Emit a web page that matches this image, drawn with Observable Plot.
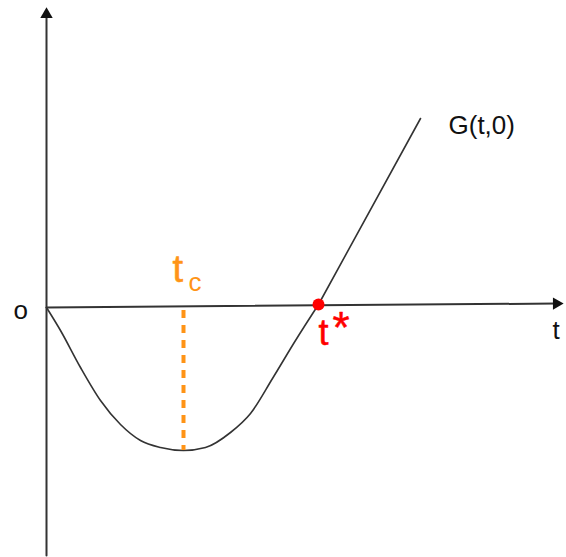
<!DOCTYPE html>
<html>
<head>
<meta charset="utf-8">
<script src="https://cdn.jsdelivr.net/npm/d3@7"></script>
<script src="https://cdn.jsdelivr.net/npm/@observablehq/plot@0.6"></script>
<style>
  html, body { margin: 0; padding: 0; background: #fff; }
  #chart svg { display: block; }
</style>
</head>
<body>
<div id="chart"></div>
<script>
// G(t,0): the dip sampled along t, up to the root t*
const dipT = [0, 14, 34, 54, 74, 94, 114, 137, 159, 184, 204, 226, 249, 272];
const dipG = [0, -23, -60, -93, -117, -133, -140, -143, -140, -125, -106, -71, -33, 3];
// past the root G(t,0) grows linearly
const rayT = [272, 374];
const rayG = [3, 189];

// horizontal t axis (slightly tilted as drawn) and vertical axis
const axisT = [0, 510];
const axisG = [0, 4];
const vAxisG = [-248, 290];

// critical times
const tc = 137;      // minimum of G
const tcG = -143;
const tStar = 272;   // root of G
const tStarG = 3;

// labels
const labelText = ["o", "t", "G(t,0)"];
const labelT = [-33, 506, 402];
const labelG = [-11, -31, 174];

const dip = dipT.map((t, i) => ({t, G: dipG[i]}));
const ray = rayT.map((t, i) => ({t, G: rayG[i]}));
const hAxis = axisT.map((t, i) => ({t, G: axisG[i]}));
const vAxis = vAxisG.map(G => ({t: 0, G}));
const labels = labelText.map((text, i) => ({text, t: labelT[i], G: labelG[i]}));

const ink = "#333";
const orange = "#ff9416";
const red = "#ff0000";
const font = "Liberation Sans, Arial, sans-serif";

const chart = Plot.plot({
  width: 566,
  height: 557,
  margin: 0,
  x: {domain: [-46, 520], axis: null},
  y: {domain: [-250, 307], axis: null},
  style: {fontFamily: font, background: "#fff"},
  marks: [
    // axes
    Plot.line(vAxis, {x: "t", y: "G", stroke: ink, strokeWidth: 2}),
    Plot.line(hAxis, {x: "t", y: "G", stroke: ink, strokeWidth: 2}),
    Plot.dot([{t: 0, G: 293}], {x: "t", y: "G", symbol: "triangle", r: 4.6, fill: "#111", stroke: "none"}),
    Plot.dot([{t: 510, G: 3.9}], {x: "t", y: "G", symbol: "triangle", r: 4.6, rotate: 90, fill: "#111", stroke: "none"}),
    // G(t,0)
    Plot.line(dip, {x: "t", y: "G", curve: "monotone-x", stroke: ink, strokeWidth: 1.6}),
    Plot.line(ray, {x: "t", y: "G", stroke: ink, strokeWidth: 1.6}),
    // t_c marker
    Plot.ruleX([tc], {y1: -3, y2: tcG, stroke: orange, strokeWidth: 4, strokeDasharray: "8,7"}),
    Plot.text(["t"], {x: [126], y: [26], text: d => d, textAnchor: "start", lineAnchor: "bottom", fontSize: 38, fill: orange, stroke: orange, strokeWidth: 0.6}),
    Plot.text(["c"], {x: [142], y: [17], text: d => d, textAnchor: "start", lineAnchor: "bottom", fontSize: 26, fill: orange}),
    // t* root
    Plot.dot([{t: tStar, G: tStarG}], {x: "t", y: "G", r: 6, fill: red, stroke: "none"}),
    Plot.text(["t"], {x: [272], y: [-37], text: d => d, textAnchor: "start", lineAnchor: "bottom", fontSize: 36, fill: red, stroke: red, strokeWidth: 0.5}),
    Plot.text(["*"], {x: [286], y: [-4], text: d => d, textAnchor: "start", lineAnchor: "top", fontSize: 44, fill: red, stroke: red, strokeWidth: 0.5}),
    // other labels
    Plot.text(labels, {x: "t", y: "G", text: "text", textAnchor: "start", lineAnchor: "bottom", fontSize: 26, fill: "#111"})
  ]
});

document.getElementById("chart").appendChild(chart);
</script>
</body>
</html>
